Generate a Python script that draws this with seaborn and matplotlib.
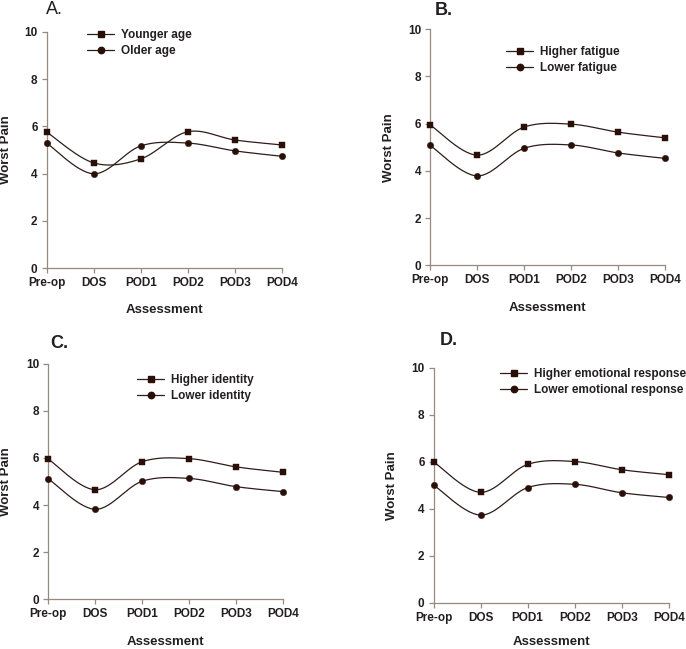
import numpy as np
import pandas as pd
import matplotlib
matplotlib.use("Agg")
import matplotlib.pyplot as plt
from matplotlib.lines import Line2D
import seaborn as sns

# ── data ─────────────────────────────────────────────────────────────────────
stages = ["Pre-op", "DOS", "POD1", "POD2", "POD3", "POD4"]

younger_age = [5.76, 4.45, 4.62, 5.77, 5.42, 5.21]
older_age = [5.29, 3.99, 5.17, 5.29, 4.96, 4.73]

higher_fatigue = [5.95, 4.67, 5.86, 5.98, 5.64, 5.40]
lower_fatigue = [5.08, 3.79, 4.96, 5.10, 4.76, 4.53]

higher_identity = [5.95, 4.65, 5.84, 5.97, 5.62, 5.39]
lower_identity = [5.11, 3.82, 5.01, 5.13, 4.78, 4.57]

higher_emotional = [6.00, 4.70, 5.89, 6.01, 5.66, 5.45]
lower_emotional = [5.01, 3.73, 4.90, 5.04, 4.68, 4.48]

panels = [
    ("A.", "normal", ["Younger age", "Older age"], [younger_age, older_age]),
    ("B.", "bold", ["Higher fatigue", "Lower fatigue"], [higher_fatigue, lower_fatigue]),
    ("C.", "bold", ["Higher identity", "Lower identity"], [higher_identity, lower_identity]),
    ("D.", "bold", ["Higher emotional response", "Lower emotional response"],
     [higher_emotional, lower_emotional]),
]

# ── style ────────────────────────────────────────────────────────────────────
sns.set_style("ticks")
plt.rcParams["font.family"] = ["Liberation Sans", "DejaVu Sans"]
plt.rcParams["font.weight"] = "bold"

LINE_C = "#2e1d18"
MARK_C = "#2a0f08"
AXIS_C = "#948a82"
TEXT_C = "#231f20"

# axes boxes in figure fraction [left, bottom, width, height]
boxes = [
    [0.068, 0.587, 0.343, 0.364],
    [0.627, 0.591, 0.343, 0.364],
    [0.0705, 0.0766, 0.342, 0.363],
    [0.632, 0.0713, 0.343, 0.362],
]
# panel letter positions (figure px, left / baseline)
letter_xy = [(46, 14), (435, 15), (50, 348), (440, 345)]
# legend anchor (figure px, upper-left of first handle)
legend_xy = [(87, 29), (506, 46), (137, 374), (500, 368)]
ylabel_x = [6, 389, 6, 392]
xlabel_pad = [11, 11, 11, 8.5]

W, H = 686, 649


def smooth(x, y, n=30):
    # Catmull-Rom style bezier smoothing, just for drawing the line
    p = np.column_stack([x, y]).astype(float)
    pts = np.vstack([p[0], p, p[-1]])
    out = []
    t = np.linspace(0, 1, n)[:, None]
    for i in range(1, len(pts) - 2):
        p0, p1, p2, p3 = pts[i - 1], pts[i], pts[i + 1], pts[i + 2]
        c1 = p1 + (p2 - p0) / 6
        c2 = p2 - (p3 - p1) / 6
        seg = ((1 - t) ** 3) * p1 + 3 * ((1 - t) ** 2) * t * c1 + 3 * (1 - t) * t ** 2 * c2 + t ** 3 * p2
        out.append(seg if i == 1 else seg[1:])
    out = np.vstack(out)
    return out[:, 0], out[:, 1]


fig = plt.figure(figsize=(W / 100, H / 100), dpi=100)
xpos = np.arange(len(stages))
markers = ["s", "o"]
msizes = [4.2, 4.6]

for i, (letter, lw, labels, series) in enumerate(panels):
    ax = fig.add_axes(boxes[i])
    handles = []
    for vals, lab, mk, ms in zip(series, labels, markers, msizes):
        sx, sy = smooth(xpos, vals)
        sns.lineplot(x=sx, y=sy, ax=ax, color=LINE_C, lw=0.9, sort=False,
                     estimator=None, zorder=2)
        df = pd.DataFrame({"x": xpos, "y": vals})
        sns.scatterplot(data=df, x="x", y="y", ax=ax, marker=mk, s=ms ** 2,
                        color=MARK_C, edgecolor=MARK_C, linewidth=0.3, zorder=3,
                        clip_on=False)
        handles.append(Line2D([], [], color=LINE_C, lw=0.9, marker=mk,
                              markersize=ms, markerfacecolor=MARK_C,
                              markeredgecolor=MARK_C))

    ax.set_xlim(0, 5)
    ax.set_ylim(0, 10)
    ax.set_xticks(xpos)
    ax.set_xticklabels(stages)
    ax.set_yticks([0, 2, 4, 6, 8, 10])
    sns.despine(ax=ax)
    for s in ["left", "bottom"]:
        ax.spines[s].set_color(AXIS_C)
        ax.spines[s].set_linewidth(0.9)
    ax.tick_params(axis="both", direction="out", length=3.5, width=0.9,
                   color=AXIS_C, labelsize=8.5, labelcolor=TEXT_C, pad=3)
    for t in ax.get_xticklabels() + ax.get_yticklabels():
        t.set_fontweight("bold")
    ax.set_xlabel("Assessment", fontsize=9.5, fontweight="bold", color=TEXT_C,
                  labelpad=xlabel_pad[i])
    ax.set_ylabel("")
    b = boxes[i]
    fig.text(ylabel_x[i] / W, b[1] + b[3] / 2, "Worst Pain", rotation=90,
             ha="center", va="center", fontsize=9.5, fontweight="bold", color=TEXT_C)

    lx, ly = letter_xy[i]
    fig.text(lx / W, 1 - ly / H, letter, ha="left", va="baseline", fontsize=13,
             fontweight=lw, color=TEXT_C)

    gx, gy = legend_xy[i]
    leg = ax.legend(handles, labels, loc="upper left",
                    bbox_to_anchor=(gx / W, 1 - gy / H), bbox_transform=fig.transFigure,
                    frameon=False, fontsize=8.5, handlelength=2.3, handletextpad=0.6,
                    labelspacing=0.35, borderpad=0, borderaxespad=0)
    for t in leg.get_texts():
        t.set_fontweight("bold")
        t.set_color(TEXT_C)

fig.savefig("out.png", dpi=100)
